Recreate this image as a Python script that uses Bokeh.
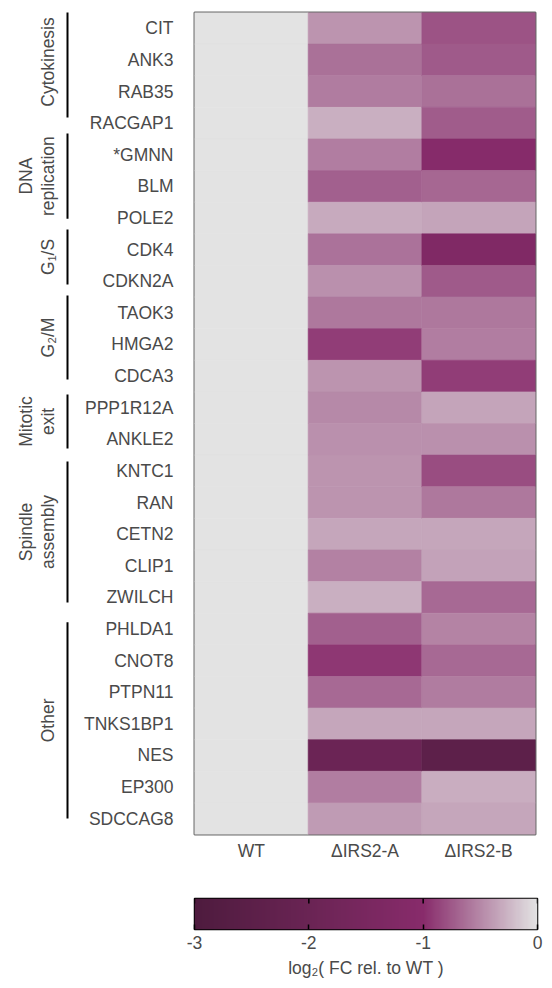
import numpy as np
from bokeh.plotting import figure
from bokeh.layouts import column, row
from bokeh.models import (ColumnDataSource, LinearColorMapper, Range1d, FixedTicker,
                          LinearAxis)
from bokeh.core.properties import value
from bokeh.embed import file_html
from bokeh.resources import INLINE

# ---------------- data ----------------
genes = ["CIT", "ANK3", "RAB35", "RACGAP1", "*GMNN", "BLM", "POLE2", "CDK4", "CDKN2A",
         "TAOK3", "HMGA2", "CDCA3", "PPP1R12A", "ANKLE2", "KNTC1", "RAN", "CETN2",
         "CLIP1", "ZWILCH", "PHLDA1", "CNOT8", "PTPN11", "TNKS1BP1", "NES", "EP300",
         "SDCCAG8"]
conditions = ["WT", "ΔIRS2-A", "ΔIRS2-B"]
wt = [0.0, 0.0, 0.0, 0.0, 0.0, 0.0, 0.0, 0.0, 0.0, 0.0, 0.0, 0.0, 0.0,
      0.0, 0.0, 0.0, 0.0, 0.0, 0.0, 0.0, 0.0, 0.0, 0.0, 0.0, 0.0, 0.0]
irs2_a = [-0.43, -0.63, -0.57, -0.29, -0.55, -0.71, -0.32, -0.61, -0.46, -0.58, -0.90,
          -0.43, -0.49, -0.46, -0.43, -0.43, -0.33, -0.53, -0.29, -0.71, -0.93, -0.66,
          -0.33, -1.95, -0.55, -0.40]
irs2_b = [-0.78, -0.74, -0.63, -0.73, -1.05, -0.67, -0.35, -1.25, -0.74, -0.58, -0.55,
          -0.90, -0.35, -0.46, -0.81, -0.59, -0.33, -0.36, -0.66, -0.52, -0.66, -0.57,
          -0.33, -2.45, -0.30, -0.33]
group_names = ["Cytokinesis", "DNA\nreplication", "G₁/S", "G₂/M", "Mitotic\nexit",
               "Spindle\nassembly", "Other"]
group_sizes = [4, 3, 2, 3, 2, 5, 7]
cbar_ticks = [-3, -2, -1, 0]
cbar_tick_labels = ["-3", "-2", "-1", "0"]

# ---------------- layout / style ----------------
# bracket extents in row-boundary units (top edge of first row = 0)
bracket_spans = [(-0.19, 3.32), (3.83, 6.52), (6.86, 8.60), (8.95, 11.61),
                 (12.08, 13.79), (14.20, 18.66), (19.29, 25.49)]
FONT = "Liberation Sans"
TXT = "#4a4a4a"
FS = "17.5px"


def hex2rgb(h):
    return tuple(int(h[i:i + 2], 16) for i in (1, 3, 5))


anchors = [(-3.0, "#4e1b3e"), (-2.0, "#6a2454"), (-1.0, "#882b6b"), (0.0, "#e3e3e3")]
pal = []
N = 300
for k in range(N):
    v = -3 + 3 * k / (N - 1)
    for (v0, c0), (v1, c1) in zip(anchors[:-1], anchors[1:]):
        if v0 <= v <= v1:
            t = (v - v0) / (v1 - v0)
            a, b = hex2rgb(c0), hex2rgb(c1)
            rgb = [round(a[j] + (b[j] - a[j]) * t) for j in range(3)]
            pal.append("#%02x%02x%02x" % tuple(rgb))
            break
mapper = LinearColorMapper(palette=pal, low=-3, high=0)

# ---------------- heatmap ----------------
xs, ys, vs = [], [], []
for ci, series in enumerate([wt, irs2_a, irs2_b]):
    for ri, val in enumerate(series):
        xs.append(ci)
        ys.append(ri)
        vs.append(val)
src = ColumnDataSource(dict(x=xs, y=ys, v=vs))

yr = Range1d(start=len(genes) - 0.5, end=-0.5)

p = figure(frame_width=341, frame_height=822, min_border_left=124, min_border_right=17,
           min_border_top=12, min_border_bottom=36,
           x_range=Range1d(-0.5, 2.5), y_range=yr,
           output_backend="svg", toolbar_location=None)
p.rect(x="x", y="y", width=1, height=1, source=src,
       fill_color={"field": "v", "transform": mapper},
       line_color={"field": "v", "transform": mapper}, line_width=0.6)
p.grid.visible = False
p.outline_line_color = "#6a6a6a"
p.outline_line_width = 2
p.background_fill_color = "white"
p.border_fill_color = "white"

p.yaxis.ticker = FixedTicker(ticks=list(range(len(genes))))
p.yaxis.major_label_overrides = {i: g for i, g in enumerate(genes)}
p.xaxis.ticker = FixedTicker(ticks=list(range(len(conditions))))
p.xaxis.major_label_overrides = {i: c for i, c in enumerate(conditions)}
for ax in (p.xaxis[0], p.yaxis[0]):
    ax.axis_line_color = None
    ax.major_tick_line_color = None
    ax.minor_tick_line_color = None
    ax.major_label_text_font = FONT
    ax.major_label_text_font_size = FS
    ax.major_label_text_color = TXT
p.yaxis.major_label_standoff = 15
p.xaxis.major_label_standoff = 0

# ---------------- group brackets ----------------
g = figure(frame_width=70, frame_height=822, min_border_left=0, min_border_right=0,
           min_border_top=12, min_border_bottom=36,
           x_range=Range1d(0, 70), y_range=yr, x_axis_type=None, y_axis_type=None,
           output_backend="svg", toolbar_location=None)
g.grid.visible = False
g.outline_line_color = None
y0 = [s - 0.5 for s, e in bracket_spans]
y1 = [e - 0.5 for s, e in bracket_spans]
ym = [(a + b) / 2 for a, b in zip(y0, y1)]
gsrc = ColumnDataSource(dict(x=[67] * len(group_names), y0=y0, y1=y1, ym=ym,
                             lx=[57] * len(group_names), name=group_names))
g.segment(x0="x", y0="y0", x1="x", y1="y1", source=gsrc, line_color="black",
          line_width=2)
g.text(x="lx", y="ym", text="name", source=gsrc, angle=np.pi / 2,
       text_align="center", text_baseline="bottom", text_font=value(FONT),
       text_font_size=FS, text_color=TXT, text_line_height=1.1)

# ---------------- colour bar ----------------
cb = figure(frame_width=343, frame_height=31, min_border_left=194, min_border_right=15,
            min_border_top=28, min_border_bottom=59,
            x_range=Range1d(-3, 0), y_range=Range1d(0, 1),
            x_axis_location=None, y_axis_type=None,
            output_backend="svg", toolbar_location=None)
cb.grid.visible = False
grad = np.linspace(-3, 0, 600).reshape(1, -1)
cb.image(image=[grad], x=-3, y=0, dw=3, dh=1, color_mapper=mapper)
cb.outline_line_color = "black"
cb.outline_line_width = 1.5
# tick marks along the top edge of the bar
cb.ray(x=cbar_ticks, y=[1] * len(cbar_ticks), length=5, length_units="screen",
       angle=-np.pi / 2, line_color="black", line_width=1.5)

ax = LinearAxis(ticker=FixedTicker(ticks=cbar_ticks))
ax.major_label_overrides = {t: s for t, s in zip(cbar_ticks, cbar_tick_labels)}
ax.axis_line_color = None
ax.major_tick_in = 5
ax.major_tick_out = 0
ax.major_tick_line_color = "black"
ax.major_tick_line_width = 1.5
ax.minor_tick_line_color = None
ax.major_label_text_font = FONT
ax.major_label_text_font_size = FS
ax.major_label_text_color = TXT
ax.major_label_standoff = 6
ax.axis_label = "log₂( FC rel. to WT )"
ax.axis_label_text_font = FONT
ax.axis_label_text_font_size = FS
ax.axis_label_text_font_style = "normal"
ax.axis_label_text_color = TXT
ax.axis_label_standoff = 6
cb.add_layout(ax, "below")

layout = column(row(g, p), cb)
open("out.html", "w").write(file_html(layout, INLINE))
